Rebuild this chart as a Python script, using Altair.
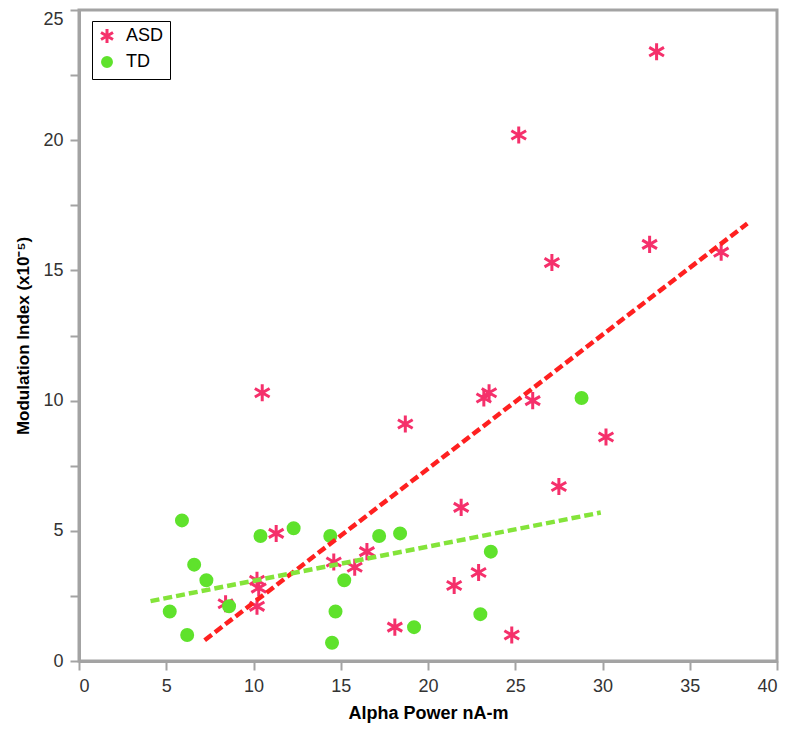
import altair as alt
import pandas as pd

# ASD group (asterisks)
asd_x = [33.1, 25.2, 32.7, 27.1, 36.8, 10.5, 23.2, 23.5, 26.0, 18.7, 30.2, 27.5, 21.9,
         11.3, 16.5, 14.6, 15.8, 22.9, 21.5, 10.2, 10.3, 10.2, 8.4, 18.1, 24.8]
asd_y = [23.4, 20.2, 16.0, 15.3, 15.7, 10.3, 10.1, 10.3, 10.0, 9.1, 8.6, 6.7, 5.9,
         4.9, 4.2, 3.8, 3.6, 3.4, 2.9, 3.1, 2.8, 2.1, 2.2, 1.3, 1.0]

# TD group (dots)
td_x = [5.9, 10.4, 12.3, 14.4, 17.2, 18.4, 6.6, 7.3, 5.2, 6.2, 8.6, 15.2, 14.7, 14.5,
        19.2, 23.6, 23.0, 28.8]
td_y = [5.4, 4.8, 5.1, 4.8, 4.8, 4.9, 3.7, 3.1, 1.9, 1.0, 2.1, 3.1, 1.9, 0.7,
        1.3, 4.2, 1.8, 10.1]

# fitted regression lines (end points)
asd_fit_x = [7.2, 38.3]
asd_fit_y = [0.8, 16.8]
td_fit_x = [4.1, 29.9]
td_fit_y = [2.3, 5.7]

groups = ["ASD", "TD"]
point_colors = ["#F5306B", "#5FE22C"]
star_path = "M0,-1.55L0,1.55M-1.34,-0.775L1.34,0.775M-1.34,0.775L1.34,-0.775"

pts = pd.concat([
    pd.DataFrame({"x": asd_x, "y": asd_y, "group": "ASD"}),
    pd.DataFrame({"x": td_x, "y": td_y, "group": "TD"}),
], ignore_index=True)
pts["order"] = range(len(pts))

fit_asd = pd.DataFrame({"x": asd_fit_x, "y": asd_fit_y})
fit_td = pd.DataFrame({"x": td_fit_x, "y": td_fit_y})

gray = "#A3A3A3"
xscale = alt.Scale(domain=[0, 40], nice=False)
yscale = alt.Scale(domain=[0, 25], nice=False)

xaxis = alt.Axis(values=list(range(0, 41, 5)), title="Alpha Power  nA-m", grid=False,
                 domainColor=gray, domainWidth=3, tickColor=gray, tickWidth=2, tickSize=9,
                 labelFont="Liberation Sans", labelFontSize=18, labelColor="#333333",
                 labelPadding=7, titleFont="Liberation Sans", titleFontSize=18,
                 titleFontWeight="bold", titleColor="black", titlePadding=9)
yaxis = alt.Axis(values=[i * 2.5 for i in range(11)],
                 labelExpr="datum.value % 5 == 0 ? datum.label : ''",
                 labelBaseline={"condition": {"test": "datum.value == 25", "value": "top"},
                                "value": "middle"},
                 title="Modulation Index (x10⁻⁵)", grid=False,
                 domainColor=gray, domainWidth=3, tickColor=gray, tickWidth=2, tickSize=9,
                 labelFont="Liberation Sans", labelFontSize=18, labelColor="#333333",
                 labelPadding=7, titleFont="Liberation Sans", titleFontSize=17,
                 titleFontWeight="bold", titleColor="black", titlePadding=10)

points = alt.Chart(pts).mark_point(filled=True, strokeWidth=3, size=121, opacity=1).encode(
    x=alt.X("x:Q", scale=xscale, axis=xaxis),
    y=alt.Y("y:Q", scale=yscale, axis=yaxis),
    fill=alt.Fill("group:N", scale=alt.Scale(domain=groups, range=point_colors),
                  legend=alt.Legend(title=None, orient="none", legendX=13, legendY=11,
                                    strokeColor="black", padding=6, labelFont="Liberation Sans",
                                    labelFontSize=18, labelColor="black", labelOffset=10,
                                    rowPadding=2, symbolStrokeWidth=3, symbolSize=80,
                                    cornerRadius=0, fillColor="white")),
    stroke=alt.Stroke("group:N", scale=alt.Scale(domain=groups, range=point_colors),
                      legend=alt.Legend(title=None)),
    shape=alt.Shape("group:N", scale=alt.Scale(domain=groups, range=[star_path, "circle"]),
                    legend=alt.Legend(title=None)),
    order=alt.Order("order:Q"),
)

line_asd = alt.Chart(fit_asd).mark_line(color="#FF2020", strokeWidth=4.5, strokeDash=[9, 4]).encode(
    x=alt.X("x:Q", scale=xscale), y=alt.Y("y:Q", scale=yscale))
line_td = alt.Chart(fit_td).mark_line(color="#84E43A", strokeWidth=4.5, strokeDash=[9, 4]).encode(
    x=alt.X("x:Q", scale=xscale), y=alt.Y("y:Q", scale=yscale))

chart = alt.layer(points, line_asd, line_td).properties(
    width=698, height=651,
    autosize=alt.AutoSizeParams(type="none"),
    padding={"left": 71, "top": 2, "right": 7, "bottom": 66},
    background="white",
).configure_view(stroke=gray, strokeWidth=3)

chart.save("out.html", embed_options={"renderer": "svg", "actions": False})
